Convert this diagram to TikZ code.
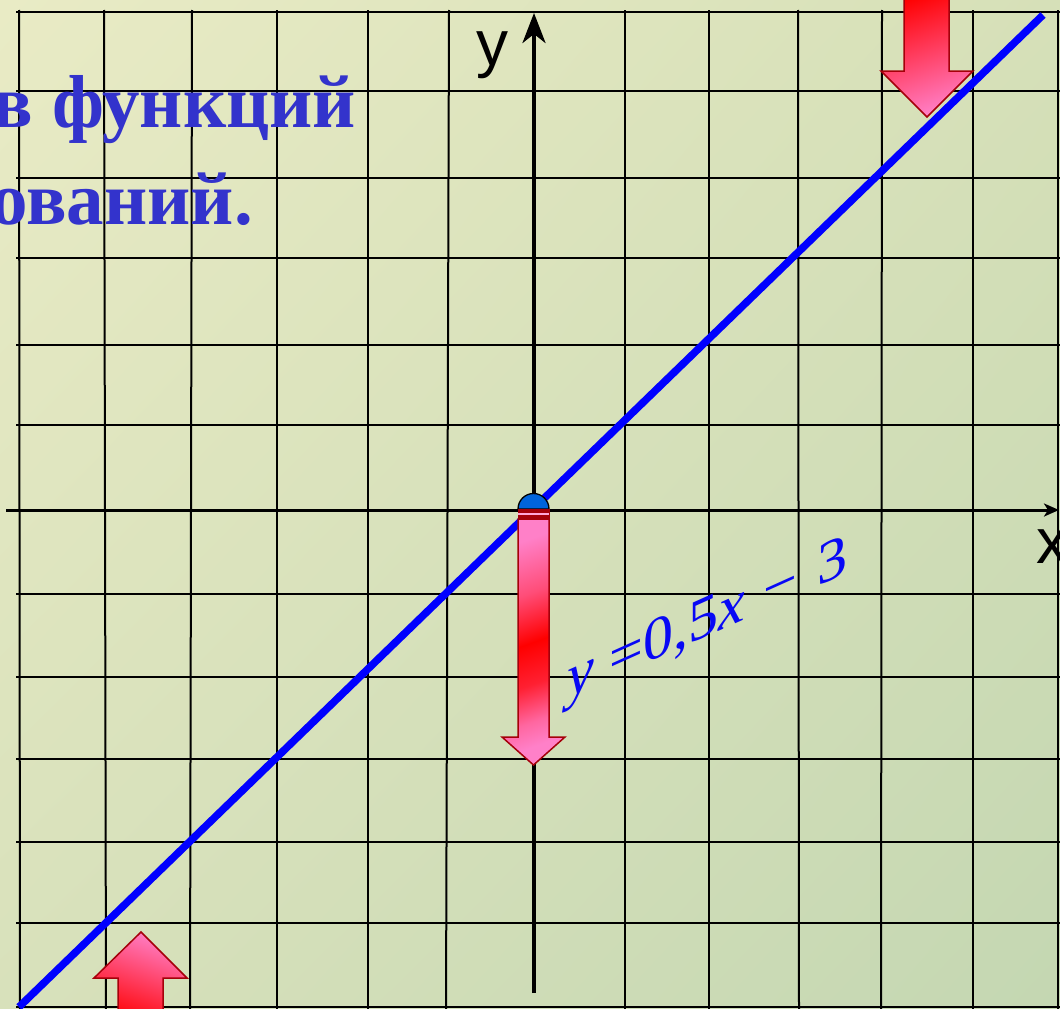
\documentclass[tikz,border=0pt]{standalone}
\usepackage{fontspec}
\setmainfont{Liberation Serif}
\newfontfamily\arialf{Liberation Sans}
\usetikzlibrary{arrows.meta,shadings}
\definecolor{bgul}{RGB}{233,235,197}
\definecolor{bgur}{RGB}{214,224,184}
\definecolor{bgll}{RGB}{216,225,187}
\definecolor{bglr}{RGB}{196,215,178}
\definecolor{titleblue}{RGB}{51,51,204}
\definecolor{lineblue}{RGB}{0,0,255}
\definecolor{eqblue}{RGB}{8,8,245}
\definecolor{apink}{RGB}{255,128,200}
\definecolor{ared}{RGB}{255,0,0}
\definecolor{aedge}{RGB}{165,0,10}
\definecolor{dotblue}{RGB}{0,100,220}
\pgfdeclareverticalshading{midred}{100bp}{color(0bp)=(apink); color(25bp)=(apink); color(31bp)=(apink!80!ared); color(40bp)=(ared!75!apink); color(50bp)=(ared); color(62bp)=(ared!40!apink); color(75bp)=(apink); color(100bp)=(apink)}
\begin{document}
\begin{tikzpicture}[x=1pt,y=-1pt,
  gridline/.style={black, line width=2pt},
  axisline/.style={black},
  arrowedge/.style={draw=aedge, line width=1.5pt, line join=miter},
  titletext/.style={text=titleblue, font=\fontsize{75}{75}\selectfont\bfseries, inner sep=0pt},
  axislabel/.style={font=\arialf\fontsize{64}{64}\selectfont, inner sep=0pt},
  eqlabel/.style={text=eqblue, font=\fontsize{60}{60}\selectfont, inner sep=0pt}]
\useasboundingbox (0,0) rectangle (1060,1009);
\clip (0,0) rectangle (1060,1009);
% background
\shade[upper left=bgul, upper right=bgur, lower left=bgll, lower right=bglr] (0,0) rectangle (1060,1009);
% grid
\foreach \xa/\xb in {19/20, 104/106, 192/190, 277/277, 368/368, 449/446, 625/625, 709/709, 798/799, 882/881, 973/973, 1058/1058}
  \draw[gridline] (\xa,10) -- (\xb,1012);
\foreach \yy in {12,91,178,258,345,425,594,677,759,842,923,1007}
  \draw[gridline] (16,\yy) -- (1062,\yy);
% axes
\coordinate (xs) at (6,510);
\coordinate (xe) at (1059,510);
\draw[axisline, line width=3pt, -{Stealth[length=15pt,width=13pt,inset=4pt]}] (xs) -- (xe);
\coordinate (ys) at (534,993);
\coordinate (ye) at (534,13);
\draw[axisline, line width=4pt, -{Stealth[length=30pt,width=23pt,inset=9pt]}] (ys) -- (ye);
% title fragment
\node[titletext, anchor=base east] (t1) at (356,127) {в функций};
\node[titletext, anchor=base east] (t2) at (253,224) {ований.};
% top-right arrow
\draw[arrowedge, top color=ared, bottom color=apink, shading angle=20]
  (904,-10) -- (949,-10) -- (949,71) -- (973,71) -- (927,117) -- (881,71) -- (904,71) -- cycle;
% graph line
\coordinate (la) at (19,1007);
\coordinate (lb) at (1043,15);
\draw[lineblue, line width=7.5pt] (la) -- (lb);
% centre arrow
\draw[fill=dotblue, draw=black, line width=1.3pt] (518,509) arc[start angle=180, end angle=360, radius=15.5] -- cycle;
\fill[aedge] (517.5,509) rectangle (549.5,519.5);
\draw[apink!70!white, line width=1.2pt] (518,514) -- (549,514);
\draw[arrowedge, shade, shading=midred, shading angle=20]
  (518,519) -- (549,519) -- (549,737) -- (565,737) -- (533.5,765) -- (502,737) -- (518,737) -- cycle;
% bottom-left arrow
\draw[arrowedge, top color=apink, bottom color=ared, shading angle=-20]
  (141,932) -- (187,978) -- (163,978) -- (163,1025) -- (118,1025) -- (118,978) -- (94,978) -- cycle;
% labels
\node[axislabel, anchor=base] (ylab) at (492.5,65) {y};
\node[axislabel, anchor=base west] (xlab) at (1036,563) {x};
\node[eqlabel, anchor=base west, yslant=0.45] (eq) at (567.7,699) {\textit{y} =0,5\textit{x}\hspace{0.3em}−\hspace{0.35em}3};
\end{tikzpicture}
\end{document}
